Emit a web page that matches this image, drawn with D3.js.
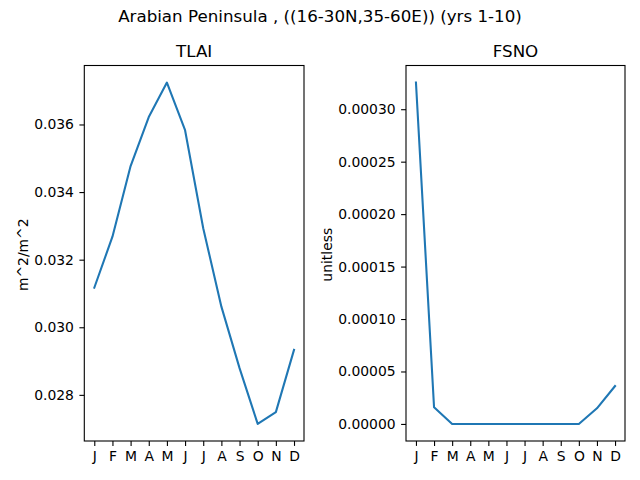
<!DOCTYPE html>
<html>
<head>
<meta charset="utf-8">
<script src="https://cdn.jsdelivr.net/npm/d3@7"></script>
<style>
  body { margin: 0; background: #fff; }
  svg text { font-family: "DejaVu Sans", sans-serif; fill: #000; }
</style>
</head>
<body>
<svg id="chart" width="640" height="480"></svg>
<script>
const MONTHS = ['J', 'F', 'M', 'A', 'M', 'J', 'J', 'A', 'S', 'O', 'N', 'D'];
const TLAI = [0.03117, 0.03268, 0.03477, 0.03622, 0.03724, 0.03583,
  0.03293, 0.03061, 0.02879, 0.02714, 0.02749, 0.02933];
const FSNO = [0.0003254, 0.0000159, 0, 0, 0, 0, 0, 0, 0, 0, 0.0000149, 0.0000361];
const TLAI_TICKS = [0.028, 0.030, 0.032, 0.034, 0.036];
const FSNO_TICKS = [0, 0.00005, 0.0001, 0.00015, 0.0002, 0.00025, 0.0003];

const svg = d3.select('#chart');
const plotTop = 65.5, plotBottom = 441;
const tickFont = '13.9px', titleFont = '16.7px';

svg.append('text')
  .attr('x', 320).attr('y', 22)
  .attr('text-anchor', 'middle')
  .style('font-size', titleFont)
  .text('Arabian Peninsula , ((16-30N,35-60E)) (yrs 1-10)');

/*
 * one panel: line over months
 */
function panel(left, right, title, ylabel, values, ticks, fmt, labelX) {
  const n = values.length;
  const x = d3.scaleLinear().domain([-0.55, n - 1 + 0.55]).range([left, right]);
  const lo = d3.min(values), hi = d3.max(values), pad = (hi - lo) * 0.05;
  const y = d3.scaleLinear().domain([lo - pad, hi + pad]).range([plotBottom, plotTop]);

  const g = svg.append('g');

  g.append('path')
    .datum(values)
    .attr('fill', 'none')
    .attr('stroke', '#1f77b4')
    .attr('stroke-width', 2.08)
    .attr('stroke-linejoin', 'round')
    .attr('stroke-linecap', 'square')
    .attr('d', d3.line().x(function (d, i) { return x(i); }).y(function (d) { return y(d); }));

  g.append('g')
    .attr('transform', 'translate(0,' + plotBottom + ')')
    .call(d3.axisBottom(x).tickValues(d3.range(n))
      .tickFormat(function (i) { return MONTHS[i]; })
      .tickSize(4.9).tickPadding(5))
    .call(function (a) { a.select('.domain').remove(); })
    .selectAll('text').style('font-size', tickFont);

  g.append('g')
    .attr('transform', 'translate(' + left + ',0)')
    .call(d3.axisLeft(y).tickValues(ticks).tickFormat(fmt)
      .tickSize(4.9).tickPadding(5.5))
    .call(function (a) { a.select('.domain').remove(); })
    .selectAll('text').style('font-size', tickFont);

  svg.selectAll('.tick line').attr('stroke', '#000').attr('stroke-width', 1.1);

  g.append('rect')
    .attr('x', left).attr('y', plotTop)
    .attr('width', right - left).attr('height', plotBottom - plotTop)
    .attr('fill', 'none').attr('stroke', '#000').attr('stroke-width', 1.1);

  g.append('text')
    .attr('x', (left + right) / 2).attr('y', plotTop - 8.5)
    .attr('text-anchor', 'middle')
    .style('font-size', titleFont)
    .text(title);

  g.append('text')
    .attr('transform', 'translate(' + labelX + ',' + ((plotTop + plotBottom) / 2 + 1.5) + ') rotate(-90)')
    .attr('text-anchor', 'middle')
    .style('font-size', tickFont)
    .text(ylabel);
}

panel(84.3, 304, 'TLAI', 'm^2/m^2', TLAI, TLAI_TICKS, d3.format('.3f'), 27.5);
panel(406, 625, 'FSNO', 'unitless', FSNO, FSNO_TICKS, d3.format('.5f'), 332);
</script>
</body>
</html>
